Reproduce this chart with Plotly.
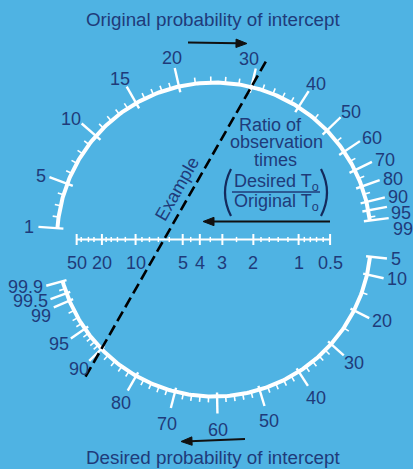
import numpy as np
import plotly.graph_objects as go

# ---------------- data ----------------
orig_major = [1, 5, 10, 15, 20, 30, 40, 50, 60, 70, 80, 90, 95, 99]
orig_minor = [2, 3, 4, 6, 7, 8, 9, 11, 12, 13, 14, 16, 17, 18, 19,
              22, 24, 26, 28, 32, 34, 36, 38, 45, 55, 65, 75, 85, 98]
des_major = [5, 10, 20, 30, 40, 50, 60, 70, 80, 90, 95, 99, 99.5, 99.9]
des_minor = [15, 25, 32, 34, 36, 38, 42, 44, 46, 48, 52, 54, 56, 58,
             62, 64, 66, 68, 72, 74, 76, 78, 82, 84, 86, 88,
             91, 92, 93, 94, 96, 97, 98, 99.7]
ratio_major = [50, 20, 10, 5, 4, 3, 2, 1, 0.5]
ratio_labels = ["50", "20", "10", "5", "4", "3", "2", "1", "0.5"]
ratio_minor = [40, 30, 25, 18, 16, 14, 12, 9, 8, 7, 6, 4.5, 3.5, 2.5,
               1.8, 1.6, 1.4, 1.2, 0.9, 0.8, 0.7, 0.6]
example_original = 30
example_desired = 90

# ---------------- layout / style ----------------
W, H = 413, 469
CX, CY, R = 214.0, 239.5, 157.0
K_ORIG = 0.28
K_DES = 1.07
K_RATIO = K_ORIG * K_DES
BG = "#4fb3e3"
NAVY = "#1f3b7a"
FONT = "Liberation Sans, Arial, sans-serif"
FS = 18


def ltime(p):
    return -np.log(1 - np.asarray(p, float) / 100.0)


def ang_orig(p):
    return 2 * np.arctan(K_ORIG / ltime(p))


def ang_des(p):
    return 2 * np.arctan(K_DES * ltime(p))


def on_circle(a, dr, lower):
    s = 1 if lower else -1
    return CX + (R + dr) * np.cos(a), CY + s * (R + dr) * np.sin(a)


def x_ratio(q):
    cq = K_RATIO * np.asarray(q, float)
    return CX + R * (1 - cq) / (1 + cq)


def tw(s, fs=FS):
    return sum(0.556 if c.isdigit() else 0.278 for c in s) * fs


fig = go.Figure()

# ---- arcs ----
a_up = np.linspace(ang_orig(99), ang_orig(1), 200)
xu, yu = on_circle(a_up, 0, False)
fig.add_trace(go.Scatter(x=xu, y=yu, mode="lines", line=dict(color="white", width=4),
                         hoverinfo="skip", showlegend=False))
a_lo = np.linspace(ang_des(5), ang_des(99.9), 200)
xl, yl = on_circle(a_lo, 0, True)
fig.add_trace(go.Scatter(x=xl, y=yl, mode="lines", line=dict(color="white", width=4),
                         hoverinfo="skip", showlegend=False))


# ---- arc ticks ----
def arc_ticks(vals, angf, lower, r0, r1):
    xs, ys = [], []
    for v in vals:
        a = angf(v)
        x0, y0 = on_circle(a, r0, lower)
        x1, y1 = on_circle(a, r1, lower)
        xs += [x0, x1, None]
        ys += [y0, y1, None]
    return xs, ys


for vals, f, low, r0, r1, w in [
    (orig_major, ang_orig, False, -6, 19, 2.4),
    (orig_minor, ang_orig, False, 0, 6, 1.6),
    (des_major, ang_des, True, -4, 17, 2.4),
    (des_minor, ang_des, True, 0, 6, 1.6),
]:
    xs, ys = arc_ticks(vals, f, low, r0, r1)
    fig.add_trace(go.Scatter(x=xs, y=ys, mode="lines", line=dict(color="white", width=w),
                             hoverinfo="skip", showlegend=False))

# ---- ratio scale ----
fig.add_trace(go.Scatter(x=[x_ratio(ratio_major[0]), x_ratio(ratio_major[-1])], y=[CY, CY],
                         mode="lines", line=dict(color="white", width=2.2),
                         hoverinfo="skip", showlegend=False))
for vals, h, w in [(ratio_major, 5.5, 2.0), (ratio_minor, 2.6, 1.5)]:
    xs, ys = [], []
    for q in vals:
        x = float(x_ratio(q))
        xs += [x, x, None]
        ys += [CY - h, CY + h, None]
    fig.add_trace(go.Scatter(x=xs, y=ys, mode="lines", line=dict(color="white", width=w),
                             hoverinfo="skip", showlegend=False))

# ---- example line ----
p_top = np.array(on_circle(ang_orig(example_original), 0, False))
p_bot = np.array(on_circle(ang_des(example_desired), 0, True))
d = (p_top - p_bot) / np.linalg.norm(p_top - p_bot)
EXT = 32
e1 = p_top + d * EXT
e0 = p_bot - d * EXT
fig.add_trace(go.Scatter(x=[e0[0], e1[0]], y=[e0[1], e1[1]], mode="lines",
                         line=dict(color="black", width=2.6, dash="11px,5px"),
                         hoverinfo="skip", showlegend=False))

annotations = []
shapes = []


def add_text(x, y, text, size=FS, color=NAVY, angle=0, xanchor="center"):
    annotations.append(dict(x=x, y=y, text=text, showarrow=False, xref="x", yref="y",
                            xanchor=xanchor, yanchor="middle", textangle=angle,
                            font=dict(family=FONT, size=size, color=color)))


def arc_labels(vals, angf, lower, rtick, gx, gy, minsep, nudge=None):
    labs = []
    for v in vals:
        a = angf(v)
        ux = np.cos(a)
        uy = np.sin(a) if lower else -np.sin(a)
        ex, ey = on_circle(a, rtick, lower)
        t = ("%g" % v)
        w = tw(t)
        cx = ex + ux * (w / 2 + gx)
        cy = ey + uy * abs(uy) * (0.36 * FS + gy)
        if nudge and v in nudge:
            cx += nudge[v]
        labs.append(dict(x=float(cx), y=float(cy), w=w, t=t))
    order = sorted(range(len(labs)), key=lambda i: labs[i]["y"])
    placed = []
    for i in order:
        L = labs[i]
        for j in sorted(placed, key=lambda k: labs[k]["y"]):
            P = labs[j]
            if abs(L["x"] - P["x"]) < (L["w"] + P["w"]) / 2 and L["y"] - P["y"] < minsep:
                L["y"] = P["y"] + minsep
        placed.append(i)
    for L in labs:
        add_text(L["x"], L["y"], L["t"])


arc_labels(orig_major, ang_orig, False, 19, 4, 4, 16, nudge={30: -10})
arc_labels(des_major, ang_des, True, 17, 4, 10, 14.5)

for q, t in zip(ratio_major, ratio_labels):
    add_text(float(x_ratio(q)), 263, t)

# ---- titles & texts ----
add_text(212.5, 19.5, "Original probability of intercept", size=18.8)
add_text(213, 457, "Desired probability of intercept", size=18.8)
add_text(270, 125, "Ratio of")
add_text(276.5, 142, "observation")
add_text(275, 160, "times")
add_text(276.5, 182, "Desired T<sub>o</sub>")
add_text(276.5, 202, "Original T<sub>o</sub>")

# example label along the line (left of it)
pm = p_bot + 0.585 * (p_top - p_bot)
nrm = np.array([-abs(d[1]), -abs(d[0])])
nrm = nrm / np.linalg.norm(nrm)
tc = pm + 14 * nrm
add_text(float(tc[0]), float(tc[1]), "Example",
         angle=float(-np.degrees(np.arctan2(-d[1], d[0]))))


# arrows drawn as line + filled head
def add_arrow(x0, y0, x1, y1, head=11, half=4.2, color="#111111"):
    v = np.array([x1 - x0, y1 - y0], float)
    v /= np.linalg.norm(v)
    nv = np.array([-v[1], v[0]])
    base = np.array([x1, y1]) - v * head
    shapes.append(dict(type="line", xref="x", yref="y", x0=x0, y0=y0,
                       x1=float(base[0] + v[0] * 2), y1=float(base[1] + v[1] * 2),
                       line=dict(color=color, width=2)))
    p1 = base + nv * half
    p2 = base - nv * half
    shapes.append(dict(type="path", xref="x", yref="y",
                       path="M %.2f,%.2f L %.2f,%.2f L %.2f,%.2f Z" % (x1, y1, p1[0], p1[1], p2[0], p2[1]),
                       fillcolor=color, line=dict(color=color, width=1)))


add_arrow(188, 42.5, 247, 43.5)
add_arrow(330, 221.5, 203, 221.5)
add_arrow(245, 439, 181, 441.5)

shapes += [
    dict(type="line", xref="x", yref="y", x0=232, x1=320, y0=192, y1=192,
         line=dict(color=NAVY, width=1.6)),
    dict(type="path", xref="x", yref="y", path="M 231,169 Q 219,192.5 231,216",
         line=dict(color="#142a5c", width=2.2)),
    dict(type="path", xref="x", yref="y", path="M 321,169 Q 333,192.5 321,216",
         line=dict(color="#142a5c", width=2.2)),
]

fig.update_layout(
    width=W, height=H, autosize=False,
    margin=dict(l=0, r=0, t=0, b=0),
    paper_bgcolor=BG, plot_bgcolor=BG,
    xaxis=dict(range=[0, W], visible=False, fixedrange=True),
    yaxis=dict(range=[H, 0], visible=False, fixedrange=True),
    annotations=annotations, shapes=shapes, showlegend=False,
)
fig.write_html("out.html", config={"displayModeBar": False, "staticPlot": True},
               post_script="document.body.style.margin='0';document.body.style.background='%s';" % BG)
